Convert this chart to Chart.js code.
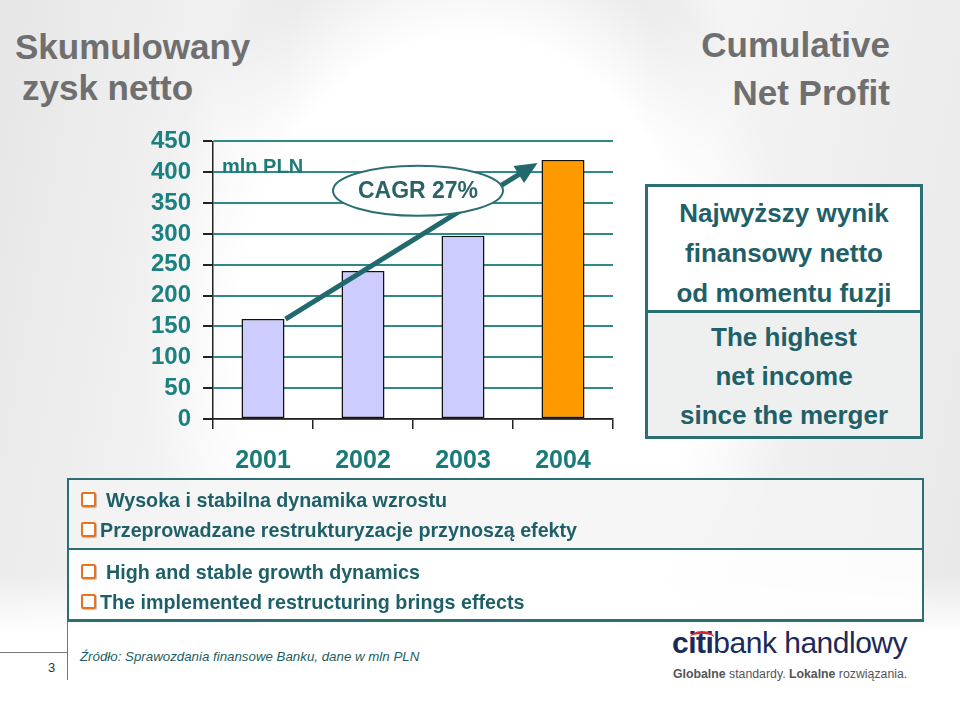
<!DOCTYPE html>
<html lang="pl">
<head>
<meta charset="utf-8">
<title>Skumulowany zysk netto</title>
<script src="https://cdn.jsdelivr.net/npm/chart.js@4/dist/chart.umd.min.js"></script>
<style>
    html, body { margin: 0; padding: 0; }
    body {
        width: 960px; height: 719px; position: relative; overflow: hidden;
        font-family: 'Liberation Sans', Arial, sans-serif;
        background:
            linear-gradient(180deg, rgba(255,255,255,0) 0%, rgba(255,255,255,0) 80%, #ffffff 88%, #ffffff 100%),
            radial-gradient(ellipse 330px 420px at 470px 330px, #ffffff 0%, #ffffff 70%, rgba(255,255,255,0) 100%),
            radial-gradient(ellipse 260px 220px at 470px 60px, #e6e6e6 0%, #e6e6e6 70%, rgba(230,230,230,0) 100%),
            radial-gradient(ellipse 160px 120px at 960px 719px, #e2e2e2 0%, #e2e2e2 60%, rgba(226,226,226,0) 100%),
            linear-gradient(100deg, #e6e6e6 0%, #f4f4f4 25%, #ffffff 45%, #f3f3f3 70%, #e8e8e8 100%);
    }
    .title-pl {
        position: absolute; left: 15px; top: 26px;
        font: bold 35px/41px 'Liberation Sans', Arial, sans-serif; color: #6f6f6f;
    }
    .title-pl span { margin-left: 7px; }
    .title-en {
        position: absolute; right: 70px; top: 21px; text-align: right;
        font: bold 35px/48px 'Liberation Sans', Arial, sans-serif; color: #6f6f6f;
    }
    #chartBox { position: absolute; left: 100px; top: 115px; width: 540px; height: 370px; }
    .side {
        position: absolute; left: 645px; top: 184px; width: 272px;
        border: 3px solid #2b6f73; color: #1f6068; text-align: center;
        font: bold 26px/39px 'Liberation Sans', Arial, sans-serif;
    }
    .side .pl { background: #ffffff; border-bottom: 3px solid #2b6f73; height: 117px; padding-top: 6px; line-height: 40px; }
    .side .en { background: #eef0f0; height: 118px; padding-top: 5px; }
    .bullets {
        position: absolute; left: 67px; top: 478px; width: 853px;
        border-top: 2px solid #2b6f73; border-left: 2px solid #2b6f73; border-right: 2px solid #2b6f73;
        border-bottom: 3px solid #2b6f73;
        color: #1f6068; font: bold 19.7px/30px 'Liberation Sans', Arial, sans-serif;
    }
    .bullets .sec { padding: 5px 0 4px 12px; }
    .bullets .sec.top { background: rgba(244,244,244,0.8); border-bottom: 2px solid #2b6f73; height: 70px; box-sizing: border-box; }
    .bullets .sec.bot { background: rgba(255,255,255,0.85); height: 69px; box-sizing: border-box; padding-top: 7px; }
    .bullets i {
        display: inline-block; width: 11px; height: 11px; margin-right: 4px; vertical-align: 0px;
        border: 2px solid #e8731c; border-radius: 2px; background: #fff;
        box-shadow: 1px 1px 1px rgba(0,0,0,0.25);
    }
    .bullets i.sp { margin-right: 10px; }
    .pagenum { position: absolute; left: 48px; top: 660px; font: 13px 'Liberation Sans', Arial, sans-serif; color: #333; }
    .vline { position: absolute; left: 67px; top: 622px; width: 1px; height: 58px; background: #777; }
    .hline { position: absolute; left: 0; top: 652px; width: 67px; height: 1px; background: #777; }
    .source {
        position: absolute; left: 80px; top: 649px;
        font: italic 13.3px 'Liberation Sans', Arial, sans-serif; color: #1d5e63;
    }
    .logo { position: absolute; left: 672px; top: 626px; font: 30px 'Liberation Sans', Arial, sans-serif; color: #1b2a5a; letter-spacing: -0.5px; white-space: nowrap; }
    .logo b { font-weight: bold; position: relative; }
    .logo .arc {
        position: absolute; left: 18px; top: 5px; width: 24px; height: 10px;
        border-top: 3px solid #d8262e; border-radius: 50% 50% 0 0;
    }
    .tagline {
        position: absolute; left: 673px; top: 667px; white-space: nowrap;
        font: 12.3px 'Liberation Sans', Arial, sans-serif; color: #555;
    }
</style>
</head>
<body>
<div class="title-pl">Skumulowany<br><span>zysk netto</span></div>
<div class="title-en">Cumulative<br>Net Profit</div>

<div id="chartBox"><canvas id="chartMain" width="540" height="370"></canvas></div>

<div class="side">
    <div class="pl">Najwyższy wynik<br>finansowy netto<br>od momentu fuzji</div>
    <div class="en">The highest<br>net income<br>since the merger</div>
</div>

<div class="bullets">
    <div class="sec top">
        <div><i class="sp"></i>Wysoka i stabilna dynamika wzrostu</div>
        <div><i></i>Przeprowadzane restrukturyzacje przynoszą efekty</div>
    </div>
    <div class="sec bot">
        <div><i class="sp"></i>High and stable growth dynamics</div>
        <div><i></i>The implemented restructuring brings effects</div>
    </div>
</div>

<div class="vline"></div>
<div class="hline"></div>
<div class="pagenum">3</div>
<div class="source">Źródło: Sprawozdania finansowe Banku, dane w mln PLN</div>
<div class="logo"><b>citi<span class="arc"></span></b>bank handlowy</div>
<div class="tagline"><b>Globalne</b> standardy. <b>Lokalne</b> rozwiązania.</div>

<script>
(function () {
    'use strict';

    // dane (mln PLN)
    const years = ['2001', '2002', '2003', '2004'];
    const profit = [162, 240, 297, 420];
    const yTickValues = [0, 50, 100, 150, 200, 250, 300, 350, 400, 450];
    const barColors = ['#ccccff', '#ccccff', '#ccccff', '#ff9900'];
    const unitLabel = 'mln PLN';
    const cagrLabel = 'CAGR 27%';

    const teal = '#2b6f73';
    const arial = "'Liberation Sans', Arial, sans-serif";

    // strzałka CAGR + elipsa + jednostka
    const cagrPlugin = {
        id: 'cagr',
        beforeDatasetsDraw(chart) {
            const { ctx, chartArea, scales } = chart;
            ctx.save();
            ctx.font = 'bold 20px ' + arial;
            ctx.fillStyle = '#1d7a78';
            ctx.textBaseline = 'middle';
            ctx.fillText(unitLabel, chartArea.left + 9, scales.y.getPixelForValue(408));
            ctx.restore();
        },
        afterDatasetsDraw(chart) {
            const { ctx, scales } = chart;
            const bars = chart.getDatasetMeta(0).data;
            const first = bars[0], last = bars[bars.length - 1];
            const x0 = first.x + first.width / 2 + 1;
            const y0 = first.y;
            const x1 = last.x - last.width / 2 - 4;
            const y1 = last.y + 3;
            const ang = Math.atan2(y1 - y0, x1 - x0);

            ctx.save();
            ctx.strokeStyle = '#22696e';
            ctx.fillStyle = '#22696e';
            ctx.lineWidth = 5;
            ctx.beginPath();
            ctx.moveTo(x0, y0);
            ctx.lineTo(x1 - 16 * Math.cos(ang), y1 - 16 * Math.sin(ang));
            ctx.stroke();
            ctx.beginPath();
            ctx.moveTo(x1, y1);
            ctx.lineTo(x1 - 22 * Math.cos(ang) + 10 * Math.sin(ang), y1 - 22 * Math.sin(ang) - 10 * Math.cos(ang));
            ctx.lineTo(x1 - 22 * Math.cos(ang) - 10 * Math.sin(ang), y1 - 22 * Math.sin(ang) + 10 * Math.cos(ang));
            ctx.closePath();
            ctx.fill();

            // elipsa
            const cx = (bars[1].x + bars[2].x) / 2 + 5;
            const cy = scales.y.getPixelForValue(370);
            ctx.beginPath();
            ctx.ellipse(cx, cy, 85, 25, 0, 0, Math.PI * 2);
            ctx.fillStyle = '#ffffff';
            ctx.fill();
            ctx.lineWidth = 2;
            ctx.strokeStyle = teal;
            ctx.stroke();
            ctx.font = 'bold 23px ' + arial;
            ctx.fillStyle = '#2a6468';
            ctx.textAlign = 'center';
            ctx.textBaseline = 'middle';
            ctx.fillText(cagrLabel, cx, cy + 1);
            ctx.restore();
        },
    };

    function initChart() {
        const el = document.getElementById('chartMain');
        if (!el || typeof Chart === 'undefined') return;

        new Chart(el, {
            type: 'bar',
            data: {
                labels: years,
                datasets: [
                    {
                        data: profit,
                        backgroundColor: barColors,
                        borderColor: '#111111',
                        borderWidth: 1.5,
                        borderSkipped: false,
                        categoryPercentage: 1,
                        barPercentage: 0.43,
                    },
                ],
            },
            options: {
                responsive: false,
                animation: false,
                layout: { padding: { top: 0, right: 27, left: 0, bottom: 0 } },
                plugins: {
                    legend: { display: false },
                    tooltip: { enabled: false },
                },
                scales: {
                    x: {
                        afterFit: (s) => { s.height = 66; },
                        grid: {
                            offset: true,
                            drawOnChartArea: false,
                            tickLength: 10,
                            tickColor: '#222',
                            lineWidth: 1.5,
                        },
                        border: { color: '#222', width: 1.5 },
                        ticks: {
                            color: '#1a7a78',
                            padding: 17,
                            font: { family: arial, size: 25, weight: 'bold' },
                        },
                    },
                    y: {
                        min: yTickValues[0],
                        max: yTickValues[yTickValues.length - 1],
                        afterBuildTicks: (s) => { s.ticks = yTickValues.map((v) => ({ value: v })); },
                        afterFit: (s) => { s.width = 113; },
                        grid: {
                            color: '#2e8a84',
                            lineWidth: 2,
                            tickLength: 10,
                            tickColor: '#222',
                        },
                        border: { color: '#222', width: 1.5 },
                        ticks: {
                            autoSkip: false,
                            color: '#1a8080',
                            padding: 12,
                            font: { family: arial, size: 24, weight: 'bold' },
                        },
                    },
                },
            },
            plugins: [cagrPlugin],
        });
    }

    if (document.readyState === 'loading') {
        document.addEventListener('DOMContentLoaded', initChart);
    } else {
        initChart();
    }
})();
</script>
</body>
</html>
